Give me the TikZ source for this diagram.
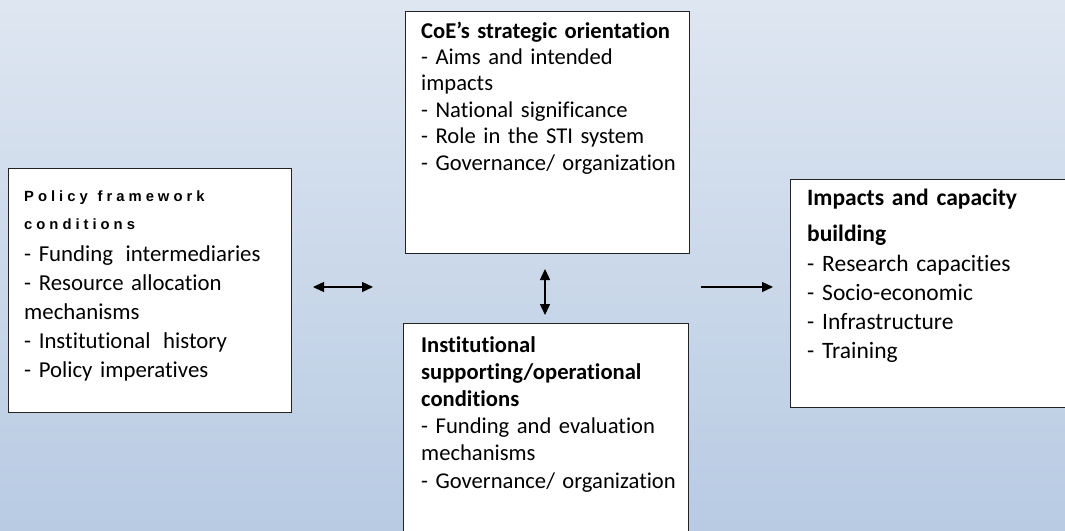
\documentclass[tikz,border=0pt]{standalone}
\usepackage{fontspec}
\setmainfont{Carlito}[Ligatures=NoCommon, WordSpace=0.8]
\newfontfamily\arialb[LetterSpace=27]{Liberation Sans Bold}
\usetikzlibrary{arrows.meta}
\definecolor{bgtop}{RGB}{222,230,241}
\definecolor{bgbot}{RGB}{184,203,227}
\definecolor{boxline}{RGB}{35,35,35}
\tikzset{
  box/.style={draw=boxline, line width=1pt, fill=white, rectangle, inner sep=0pt, anchor=north west},
  txt/.style={inner sep=0pt, anchor=base west, align=left},
  arr/.style={line width=1.4pt, -{Triangle[length=11pt,width=10pt]}},
  darr/.style={line width=1.4pt, {Triangle[length=11pt,width=10pt]}-{Triangle[length=11pt,width=10pt]}}
}
\begin{document}
\begin{tikzpicture}[x=1pt,y=-1pt]
\useasboundingbox (0,0) rectangle (1065,530);
\fill[top color=bgtop, bottom color=bgbot] (0,0) rectangle (1065,530);

% boxes
\node[box, minimum width=283pt, minimum height=244pt] (pf) at (8,168) {};
\node[box, minimum width=284pt, minimum height=242pt] (so) at (405,11) {};
\node[box, minimum width=285pt, minimum height=220pt] (ins) at (403,323) {};
\node[box, minimum width=290pt, minimum height=228pt] (ib) at (790,179) {};

% texts
\node[txt, text width=265pt, font=\fontsize{14.8}{28}\selectfont] (pft) at (24,201)
  {\arialb Policy\hspace{5pt} framework\\ \arialb conditions};
\node[txt, text width=265pt, font=\fontsize{22.8}{29}\selectfont] (pfl) at (24,261)
  {- Funding\hspace{5pt} intermediaries\\ - Resource allocation\\ mechanisms\\ - Institutional\hspace{5pt} history\\ - Policy imperatives};

\node[txt, text width=270pt, font=\fontsize{22.6}{26.4}\selectfont] (sot) at (421,38)
  {\textbf{CoE’s strategic orientation}\\ - Aims and intended\\ impacts\\ - National significance\\ - Role in the STI system\\ - Governance/ organization};

\node[txt, text width=270pt, font=\fontsize{22.6}{27.2}\selectfont] (inst) at (421,352)
  {\textbf{Institutional}\\ \textbf{supporting/operational}\\ \textbf{conditions}\\ - Funding and evaluation\\ mechanisms\\ - Governance/ organization};

\node[txt, text width=255pt, font=\fontsize{23.5}{36.5}\selectfont] (ibt) at (807,205)
  {\textbf{Impacts and capacity}\\ \textbf{building}};
\node[txt, text width=255pt, font=\fontsize{23.5}{29.2}\selectfont] (ibl) at (807,271)
  {- Research capacities\\ - Socio-economic\\ - Infrastructure\\ - Training};

% connectors
\coordinate (l1) at (313,287);
\coordinate (l2) at (373,287);
\coordinate (v1) at (545,269);
\coordinate (v2) at (545,315);
\coordinate (r1) at (701,287);
\coordinate (r2) at (773,287);
\draw[darr] (l1) -- (l2);
\draw[darr] (v1) -- (v2);
\draw[arr] (r1) -- (r2);
\end{tikzpicture}
\end{document}
